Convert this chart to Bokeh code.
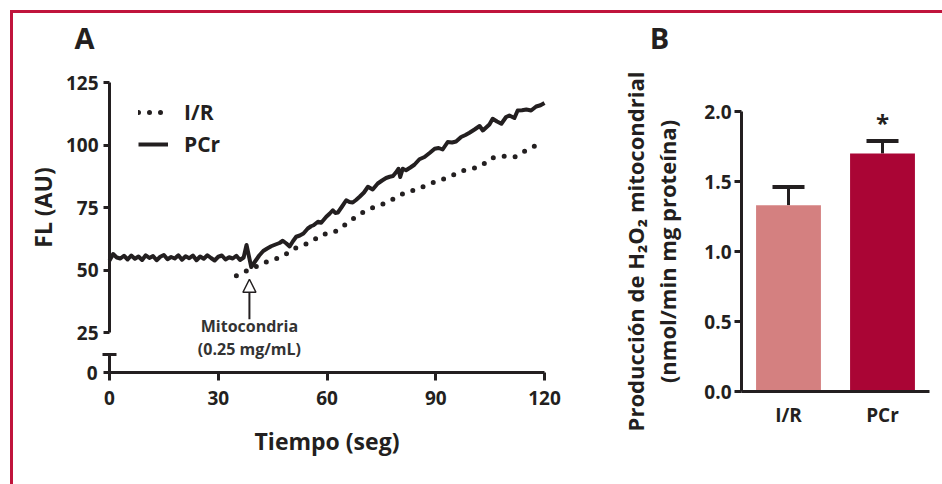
from bokeh.plotting import figure
from bokeh.models import (Range1d, FixedTicker, LinearAxis, Legend, LegendItem,
                          Label, Arrow, NormalHead, Whisker, TeeHead, ColumnDataSource,
                          InlineStyleSheet, PrintfTickFormatter)
from bokeh.layouts import row
from bokeh.embed import file_html
from bokeh.resources import INLINE
from bokeh.core.properties import value

FONT = "Open Sans"
INK = "#231f20"
BORDER = "#c0143c"

# ---------------- Panel A data ----------------
pcr_time = [0, 1, 2, 3, 4, 5, 6, 7, 8, 9, 10, 11, 12, 13, 14, 15, 16, 17, 18, 19,
            20, 21, 22, 23, 24, 25, 26, 27, 28, 29, 30, 31, 32, 33, 34, 35, 36, 37,
            37.8, 39.1, 40.2, 41.3, 42.4, 43.5, 44.6, 45.8, 46.9, 47.8,
            48.8, 49.7, 50.6, 51.5, 52.5, 53.5, 54.7, 55.6, 56.3, 57.5,
            58.4, 59.8, 60.7, 61.6, 62.3, 63.0, 64.2, 65.3, 66.2, 67.1,
            68.0, 69.0, 70.2, 71.3, 72.6, 74.0, 75.2, 76.3, 77.3, 78.2,
            79.0, 79.7, 80.2, 80.9, 81.8, 83.0, 84.1, 85.5, 86.9, 88.3,
            89.7, 90.8, 91.9, 93.3, 94.5, 95.6, 97.0, 98.2, 99.3, 100.7,
            102.1, 103.0, 104.8, 105.7, 106.9, 108.1, 109.4, 110.3, 111.7, 112.6,
            113.8, 115.0, 116.3, 117.7, 118.9, 120.0]
pcr_fl = [53.8, 56.4, 55.0, 54.6, 55.7, 54.2, 55.8, 54.5, 55.4, 54.0,
          55.9, 54.8, 55.6, 53.9, 55.3, 56.0, 54.3, 55.2, 54.6, 55.9,
          54.1, 55.5, 54.7, 55.8, 53.9, 55.4, 54.5, 55.9, 54.8, 53.8,
          55.3, 55.8, 54.2, 55.1, 54.6, 55.7, 54.0, 55.0,
          60.0, 51.2, 53.5, 55.8, 57.6, 58.6, 59.5, 60.2, 60.8, 61.7,
          60.6, 59.4, 61.5, 63.3, 63.8, 64.6, 66.6, 67.5, 67.9, 69.3,
          68.9, 71.3, 72.5, 73.9, 72.8, 73.0, 75.5, 77.9, 77.2, 77.0,
          78.0, 79.3, 81.0, 83.3, 82.2, 84.6, 85.8, 86.8, 87.3, 87.6,
          89.0, 90.5, 87.2, 90.5, 89.9, 91.0, 92.1, 94.3, 95.2, 96.8,
          98.5, 98.8, 98.2, 101.2, 101.0, 101.4, 103.2, 104.0, 104.9, 106.2,
          107.6, 105.8, 108.2, 110.5, 109.4, 108.5, 111.2, 111.8, 110.8, 113.8,
          113.9, 114.2, 113.8, 115.4, 115.9, 116.8]

ir_time = [35.0, 37.2, 39.4, 41.9, 45.0, 47.7, 50.8, 53.2, 56.0, 58.8, 60.4, 62.6,
           65.6, 68.2, 71.3, 74.0, 77.0, 79.1, 81.8, 84.6, 87.5, 90.6, 93.8, 96.7,
           99.9, 102.5, 105.3, 108.3, 111.8, 114.5, 117.0, 120.0]
ir_fl = [47.7, 49.3, 50.5, 52.5, 54.1, 55.3, 58.5, 59.7, 61.7, 64.4, 64.4, 65.6,
         68.7, 71.6, 74.3, 75.6, 77.3, 79.1, 81.2, 82.1, 84.0, 85.7, 87.2, 89.5,
         90.5, 91.5, 94.8, 95.5, 95.2, 97.5, 99.5, 99.9]

x_ticks = [0, 30, 60, 90, 120]
y_ticks = [25, 50, 75, 100, 125]
mito_time = 38.6
mito_text = ["Mitocondria", "(0.25 mg/mL)"]

# ---------------- Panel B data ----------------
groups = ["I/R", "PCr"]
h2o2 = [1.33, 1.70]
h2o2_sem = [0.13, 0.09]
b_ticks = [0.0, 0.5, 1.0, 1.5, 2.0]
bar_colors = ["#d48080", "#aa0535"]

# ---------------- layout geometry (canvas pixels) ----------------
CANVAS_W, CANVAS_H = 933, 475
A_T0_PX, A_T120_PX = 109, 544          # panel A: x of t=0 and t=120
A_Y125_PX, A_Y25_PX = 82, 332          # panel A: y of 125 and 25
A_ZERO_PX, A_CAP_PX = 372, 354         # panel A: broken-axis "0" and its cap
B_X0_PX, B_X2_PX = 741, 929            # panel B: category band edges
B_Y0_PX, B_Y2_PX = 391, 111            # panel B: y of 0.0 and 2.0

a_sx = (A_T120_PX - A_T0_PX) / 120.0
a_sy = (A_Y25_PX - A_Y125_PX) / 100.0
def a_val(py):
    return 125 - (py - A_Y125_PX) / a_sy
Y_ZERO_POS = a_val(A_ZERO_PX)
Y_BREAK_CAP = a_val(A_CAP_PX)
b_sx = (B_X2_PX - B_X0_PX) / len(groups)
b_sy = (B_Y0_PX - B_Y2_PX) / 2.0

p = figure(width=CANVAS_W, height=CANVAS_H,
           x_range=Range1d(-A_T0_PX / a_sx, (CANVAS_W - A_T0_PX) / a_sx),
           y_range=Range1d(a_val(CANVAS_H), a_val(0)),
           x_axis_location=None, y_axis_location=None,
           output_backend="svg", toolbar_location=None, min_border=0)
p.extra_x_ranges = {"bx": Range1d(-B_X0_PX / b_sx, (CANVAS_W - B_X0_PX) / b_sx)}
p.extra_y_ranges = {"by": Range1d(-(CANVAS_H - B_Y0_PX) / b_sy, B_Y0_PX / b_sy)}
p.outline_line_color = None
p.grid.visible = False


def style_axis(ax, size="19px"):
    ax.axis_line_color = INK
    ax.axis_line_width = 3
    ax.major_tick_line_color = INK
    ax.major_tick_line_width = 3
    ax.minor_tick_line_color = INK
    ax.minor_tick_line_width = 3
    ax.major_tick_in = 0
    ax.minor_tick_in = 0
    ax.minor_tick_out = 0
    ax.major_label_text_font = FONT
    ax.major_label_text_font_style = "bold"
    ax.major_label_text_font_size = size
    ax.major_label_text_color = INK
    ax.axis_label_text_font = FONT
    ax.axis_label_text_font_style = "bold"
    ax.axis_label_text_font_size = "23px"
    ax.axis_label_text_color = INK
    return ax


# ---------------- Panel A ----------------
xa = style_axis(LinearAxis(ticker=FixedTicker(ticks=x_ticks), bounds=(0, 120),
                           fixed_location=Y_ZERO_POS, axis_label="Tiempo (seg)"))
xa.major_tick_out = 8
xa.major_label_standoff = 10
xa.axis_label_standoff = 17
p.add_layout(xa, "below")

ya = style_axis(LinearAxis(ticker=FixedTicker(ticks=y_ticks), bounds=(25, 125),
                           fixed_location=0, axis_label="FL (AU)"))
ya.major_tick_out = 6
ya.major_label_standoff = 5
ya.axis_label_standoff = 4
p.add_layout(ya, "left")

ylow = style_axis(LinearAxis(ticker=FixedTicker(ticks=[Y_ZERO_POS], minor_ticks=[Y_BREAK_CAP]),
                             bounds=(Y_ZERO_POS, Y_BREAK_CAP), fixed_location=0,
                             major_label_overrides={Y_ZERO_POS: "0"}))
ylow.major_tick_out = 6
ylow.major_label_standoff = 5
ylow.minor_tick_in = 7
ylow.minor_tick_out = 7
p.add_layout(ylow, "left")

r_ir = p.line(ir_time, ir_fl, line_color=INK, line_width=5, line_dash="0 11", line_cap="round")
r_pcr = p.line(pcr_time, pcr_fl, line_color=INK, line_width=4, line_join="round")

legend = Legend(items=[LegendItem(label="I/R", renderers=[r_ir]),
                       LegendItem(label="PCr", renderers=[r_pcr])],
                location=(138, 315), padding=0, margin=0, spacing=0,
                glyph_width=30, glyph_height=32, label_height=32, label_standoff=16,
                border_line_color=None, background_fill_alpha=0,
                label_text_font=FONT, label_text_font_style="bold",
                label_text_font_size="21px", label_text_color=INK)
p.add_layout(legend)

p.add_layout(Arrow(end=NormalHead(size=13, fill_color="white", line_color=INK, line_width=1.5),
                   x_start=mito_time, y_start=30.3, x_end=mito_time, y_end=46.3,
                   line_color=INK, line_width=2))
for txt, yy in zip(mito_text, [27.5, 18.3]):
    p.add_layout(Label(x=mito_time, y=yy, text=txt, text_align="center", text_baseline="middle",
                       text_font=FONT, text_font_style="bold", text_font_size="16px",
                       text_color="#333333"))

p.add_layout(Label(x=-6.9, y=142.9, text="A", text_align="center", text_baseline="middle",
                   text_font=FONT, text_font_style="bold", text_font_size="29px",
                   text_color=INK))

# ---------------- Panel B ----------------
bar_x = [i + 0.5 for i in range(len(groups))]
src = ColumnDataSource(dict(x=bar_x, v=h2o2, up=[m + s for m, s in zip(h2o2, h2o2_sem)],
                            c=bar_colors))
p.vbar(x="x", top="v", width=0.69, fill_color="c", line_color=None, source=src,
       x_range_name="bx", y_range_name="by")
p.add_layout(Whisker(source=src, base="x", lower="v", upper="up", line_color=INK, line_width=3,
                     upper_head=TeeHead(size=32, line_color=INK, line_width=4), lower_head=None,
                     x_range_name="bx", y_range_name="by"))
p.text(x=[bar_x[1]], y=[h2o2[1] + h2o2_sem[1]], text=["*"], text_align="center",
       text_baseline="alphabetic", y_offset=-18, text_font=value(FONT), text_font_style="bold",
       text_font_size="24px", text_color=INK, x_range_name="bx", y_range_name="by")

bx = style_axis(LinearAxis(ticker=FixedTicker(ticks=bar_x), bounds=(0, len(groups)),
                           fixed_location=0, x_range_name="bx", y_range_name="by",
                           major_label_overrides={x: g for x, g in zip(bar_x, groups)}))
bx.major_tick_out = 0
bx.major_label_standoff = 10
p.add_layout(bx, "below")

by = style_axis(LinearAxis(ticker=FixedTicker(ticks=b_ticks), bounds=(0, 2.0),
                           formatter=PrintfTickFormatter(format="%.1f"),
                           fixed_location=0, x_range_name="bx", y_range_name="by",
                           axis_label="Producción de H₂O₂ mitocondrial\n(nmol/min mg proteína)"))
by.major_tick_out = 7
by.major_label_standoff = 3
by.axis_label_standoff = 19
by.axis_label_text_font_size = "22px"
by.axis_label_text_line_height = 1.08
p.add_layout(by, "left")

p.add_layout(Label(x=-0.872, y=2.529, text="B", text_align="center", text_baseline="middle",
                   text_font=FONT, text_font_style="bold", text_font_size="29px",
                   text_color=INK, x_range_name="bx", y_range_name="by"))

border_css = InlineStyleSheet(css=(
    ":host::before { content: ''; position: fixed; left: 10px; top: 9.5px; right: 0; bottom: 0;"
    f" border-left: 3px solid {BORDER}; border-top: 3px solid {BORDER};"
    " pointer-events: none; z-index: 5; }"))
layout = row(p, stylesheets=[border_css])

open("out.html", "w").write(file_html(layout, INLINE))
